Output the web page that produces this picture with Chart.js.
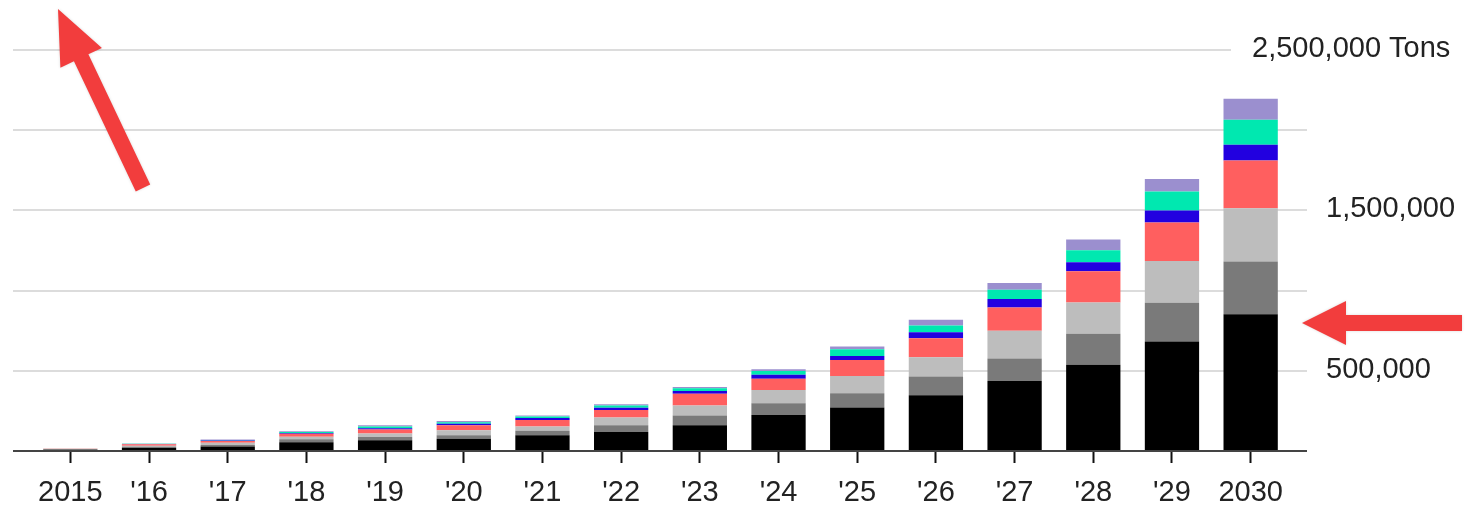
<!DOCTYPE html>
<html>
<head>
<meta charset="utf-8">
<script src="https://cdn.jsdelivr.net/npm/chart.js@4"></script>
<style>
  html, body { margin: 0; padding: 0; background: #fff; }
  #wrap { width: 1466px; height: 508px; position: relative; }
</style>
</head>
<body>
<div id="wrap"><canvas id="myChart"></canvas></div>
<script>
// DATA
const years = ["2015", "'16", "'17", "'18", "'19", "'20", "'21", "'22", "'23", "'24", "'25", "'26", "'27", "'28", "'29", "2030"];

const segBlack = [7000, 18000, 28000, 55000, 67000, 77000, 98000, 119000, 160000, 225000, 271000, 348000, 437000, 537000, 682000, 853000];
const segDarkGray = [5000, 8000, 10000, 18000, 20000, 21000, 28000, 42000, 62000, 73000, 89000, 117000, 140000, 194000, 243000, 328000];
const segLightGray = [2000, 6000, 14000, 16000, 22000, 31000, 27000, 48000, 62000, 83000, 108000, 119000, 172000, 195000, 260000, 333000];
const segRed = [1000, 10000, 10000, 18000, 25000, 31000, 40000, 46000, 73000, 69000, 100000, 119000, 146000, 194000, 239000, 297000];
const segBlue = [0, 2000, 3000, 5000, 8000, 10000, 12000, 15000, 17000, 25000, 25000, 37000, 52000, 56000, 75000, 98000];
const segTeal = [0, 1000, 4000, 7000, 10000, 10000, 10000, 14000, 17000, 24000, 42000, 42000, 58000, 75000, 119000, 156000];
const segPurple = [0, 1000, 2000, 4000, 8000, 7000, 6000, 8000, 8000, 10000, 17000, 37000, 42000, 67000, 77000, 131000];

const gridValues = [500000, 1000000, 1500000, 2000000, 2500000];
const yTickValues = [500000, 1500000, 2500000];
const yTickLabels = ["500,000", "1,500,000", "2,500,000 Tons"];

const FONT = "'Liberation Sans', Arial, Helvetica, sans-serif";

// gridlines + baseline, drawn wider than the bar area like the original
const gridPlugin = {
  id: "gridPlugin",
  beforeDatasetsDraw(chart) {
    const ctx = chart.ctx;
    const y = chart.scales.y;
    ctx.save();
    ctx.strokeStyle = "#dcdcdc";
    ctx.lineWidth = 2;
    gridValues.forEach((v) => {
      const py = Math.round(y.getPixelForValue(v));
      const right = v === 2500000 ? 1231 : 1307;
      ctx.beginPath();
      ctx.moveTo(13, py);
      ctx.lineTo(right, py);
      ctx.stroke();
    });
    ctx.restore();
  },
  afterDatasetsDraw(chart) {
    const ctx = chart.ctx;
    const py = Math.round(chart.scales.y.getPixelForValue(0));
    ctx.save();
    ctx.strokeStyle = "#444";
    ctx.lineWidth = 2;
    ctx.beginPath();
    ctx.moveTo(13, py);
    ctx.lineTo(1307, py);
    ctx.stroke();
    ctx.restore();
  },
};

// right hand value labels
const yLabelPlugin = {
  id: "yLabelPlugin",
  afterDraw(chart) {
    const ctx = chart.ctx;
    const y = chart.scales.y;
    ctx.save();
    ctx.font = "29px " + FONT;
    ctx.fillStyle = "#222";
    ctx.textBaseline = "middle";
    ctx.textAlign = "left";
    yTickValues.forEach((v, i) => {
      const py = y.getPixelForValue(v) - 1;
      const px = v === 2500000 ? 1252 : 1326;
      ctx.fillText(yTickLabels[i], px, py);
    });
    ctx.restore();
  },
};

function arrow(ctx, tx, ty, fx, fy, headLen, headHalf, shaftHalf) {
  const dx = fx - tx, dy = fy - ty;
  const len = Math.sqrt(dx * dx + dy * dy);
  const ux = dx / len, uy = dy / len; // from tip to tail
  const nx = -uy, ny = ux;
  const bx = tx + ux * headLen, by = ty + uy * headLen;
  ctx.beginPath();
  ctx.moveTo(tx, ty);
  ctx.lineTo(bx + nx * headHalf, by + ny * headHalf);
  ctx.lineTo(bx + nx * shaftHalf, by + ny * shaftHalf);
  ctx.lineTo(fx + nx * shaftHalf, fy + ny * shaftHalf);
  ctx.lineTo(fx - nx * shaftHalf, fy - ny * shaftHalf);
  ctx.lineTo(bx - nx * shaftHalf, by - ny * shaftHalf);
  ctx.lineTo(bx - nx * headHalf, by - ny * headHalf);
  ctx.closePath();
  ctx.fill();
}

// red callout arrows
const arrowPlugin = {
  id: "arrowPlugin",
  afterDraw(chart) {
    const ctx = chart.ctx;
    ctx.save();
    ctx.fillStyle = "#f23d3d";
    ctx.shadowColor = "rgba(0,0,0,0.15)";
    ctx.shadowBlur = 3;
    arrow(ctx, 58, 9, 143, 188, 54, 23, 8);
    arrow(ctx, 1302, 323, 1462, 323, 44, 22, 8);
    ctx.restore();
  },
};

const mk = (label, data, color) => ({
  label,
  data,
  backgroundColor: color,
  borderWidth: 0,
  categoryPercentage: 1,
  barPercentage: 0.69,
});

const data = {
  labels: years,
  datasets: [
    mk("Segment 1", segBlack, "#000000"),
    mk("Segment 2", segDarkGray, "#7a7a7a"),
    mk("Segment 3", segLightGray, "#bdbdbd"),
    mk("Segment 4", segRed, "#ff5f5f"),
    mk("Segment 5", segBlue, "#2200e0"),
    mk("Segment 6", segTeal, "#00e8b0"),
    mk("Segment 7", segPurple, "#9b8fcf"),
  ],
};

const config = {
  type: "bar",
  data,
  plugins: [gridPlugin, yLabelPlugin, arrowPlugin],
  options: {
    responsive: true,
    maintainAspectRatio: false,
    animation: false,
    layout: { padding: { left: 31, right: 176, top: 50, bottom: 0 } },
    plugins: {
      legend: { display: false },
      tooltip: { enabled: false },
    },
    scales: {
      x: {
        stacked: true,
        border: { display: false },
        grid: {
          offset: false,
          drawOnChartArea: false,
          drawTicks: true,
          tickLength: 12,
          tickColor: "#111",
          tickWidth: 2,
        },
        ticks: {
          color: "#222",
          padding: 13,
          maxRotation: 0,
          autoSkip: false,
          font: { family: FONT, size: 29 },
        },
        afterFit: (s) => { s.height = 57; },
      },
      y: {
        stacked: true,
        display: false,
        min: 0,
        max: 2500000,
      },
    },
  },
};

const myChart = new Chart(document.getElementById("myChart"), config);
</script>
</body>
</html>
